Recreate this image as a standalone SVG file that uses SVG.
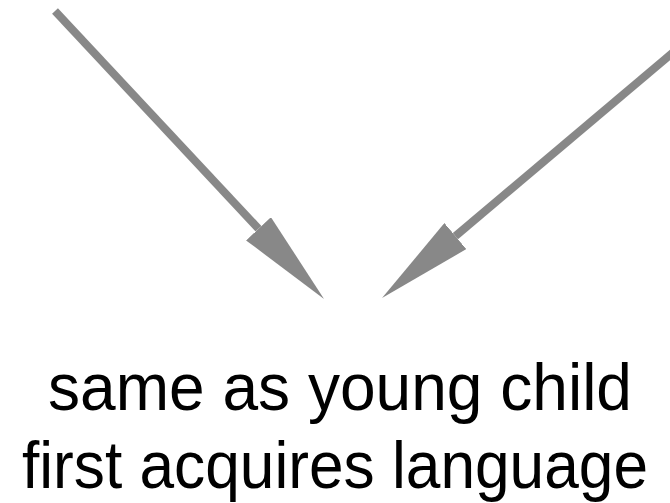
<svg xmlns="http://www.w3.org/2000/svg" width="670" height="503" viewBox="0 0 670 503">
  <style>
    .conn { stroke: #888888; stroke-width: 8; fill: none; stroke-linecap: butt; }
    .label { font-family: "Liberation Sans", Arial, Helvetica, sans-serif; font-size: 67px; fill: #000000; text-anchor: middle; }
  </style>
  <defs>
    <marker id="head" viewBox="0 -17 96 34" refX="0" refY="0" markerWidth="96" markerHeight="34" markerUnits="userSpaceOnUse" orient="auto">
      <path d="M0,-17 L96,0 L0,17 Z" fill="#888888"/>
    </marker>
  </defs>
  <rect width="670" height="503" fill="#ffffff"/>
  <g id="connectors">
    <line class="conn" x1="55" y1="11" x2="258.5" y2="228.8" marker-end="url(#head)"/>
    <line class="conn" x1="675" y1="50.8" x2="455.4" y2="236.1" marker-end="url(#head)"/>
  </g>
  <g id="label-node">
    <text class="label" x="340" y="410" textLength="584" lengthAdjust="spacingAndGlyphs">same as young child</text>
    <text class="label" x="335" y="488" textLength="626" lengthAdjust="spacingAndGlyphs">first acquires language</text>
  </g>
</svg>
